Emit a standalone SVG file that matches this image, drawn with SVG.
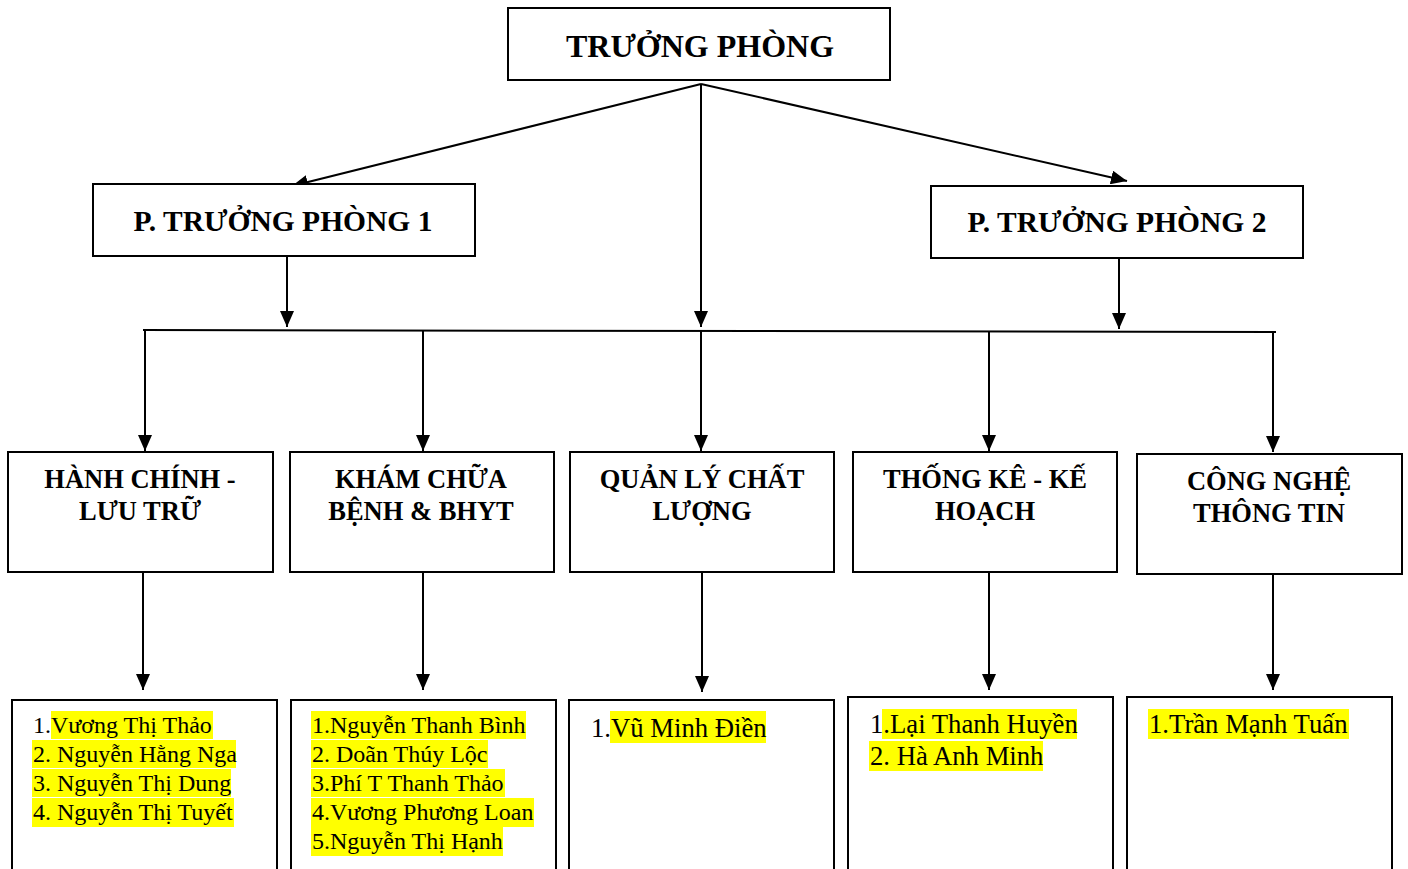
<svg xmlns="http://www.w3.org/2000/svg" width="1408" height="869" viewBox="0 0 1408 869">
<style>
.box{fill:#fff;stroke:#000;stroke-width:2}
.h{font-family:"Liberation Serif","Times New Roman",serif;font-weight:bold;text-anchor:middle;fill:#000}
.n{font-family:"Liberation Serif","Times New Roman",serif;fill:#000}
.hl{fill:#ffff00}
.c{stroke:#000;stroke-width:2;fill:none}
.ca{stroke:#000;stroke-width:2;fill:none;marker-end:url(#ah)}
</style>
<defs>
<marker id="ah" markerUnits="userSpaceOnUse" markerWidth="16" markerHeight="14" refX="16" refY="7" orient="auto">
<path d="M0,0 L16,7 L0,14 z" fill="#000"/>
</marker>
</defs>
<rect width="1408" height="869" fill="#fff"/>
<g id="connectors">
<line class="ca" x1="701" y1="84" x2="292" y2="186"/>
<line class="ca" x1="701" y1="84" x2="701" y2="327"/>
<line class="ca" x1="701" y1="84" x2="1127" y2="181"/>
<line class="ca" x1="287" y1="256" x2="287" y2="327"/>
<line class="ca" x1="1119" y1="258" x2="1119" y2="329"/>
<line class="c" x1="143" y1="330" x2="1276" y2="332"/>
<line class="ca" x1="145" y1="330" x2="145" y2="451"/>
<line class="ca" x1="423" y1="331" x2="423" y2="451"/>
<line class="ca" x1="701" y1="331" x2="701" y2="451"/>
<line class="ca" x1="989" y1="331" x2="989" y2="451"/>
<line class="ca" x1="1273" y1="332" x2="1273" y2="452"/>
<line class="ca" x1="143" y1="572" x2="143" y2="690"/>
<line class="ca" x1="423" y1="572" x2="423" y2="690"/>
<line class="ca" x1="702" y1="572" x2="702" y2="692"/>
<line class="ca" x1="989" y1="572" x2="989" y2="690"/>
<line class="ca" x1="1273" y1="574" x2="1273" y2="690"/>
</g>
<g id="truong-phong">
<rect class="box" x="508" y="8" width="382" height="72"/>
<text class="h" x="700" y="57" font-size="32">TRƯỞNG PHÒNG</text>
</g>
<g id="pho-truong-phong-1">
<rect class="box" x="93" y="184" width="382" height="72"/>
<text class="h" x="283" y="231" font-size="29.5">P. TRƯỞNG PHÒNG 1</text>
</g>
<g id="pho-truong-phong-2">
<rect class="box" x="931" y="186" width="372" height="72"/>
<text class="h" x="1117" y="232" font-size="29.5">P. TRƯỞNG PHÒNG 2</text>
</g>
<g id="hanh-chinh">
<rect class="box" x="8" y="452" width="265" height="120"/>
<text class="h" x="140" y="488" font-size="26.5">HÀNH CHÍNH -</text>
<text class="h" x="140" y="520" font-size="26.5">LƯU TRỮ</text>
</g>
<g id="kham-chua-benh">
<rect class="box" x="290" y="452" width="264" height="120"/>
<text class="h" x="421" y="488" font-size="26.5">KHÁM CHỮA</text>
<text class="h" x="421" y="520" font-size="26.5">BỆNH &amp; BHYT</text>
</g>
<g id="quan-ly-chat-luong">
<rect class="box" x="570" y="452" width="264" height="120"/>
<text class="h" x="702" y="488" font-size="26.5">QUẢN LÝ CHẤT</text>
<text class="h" x="702" y="520" font-size="26.5">LƯỢNG</text>
</g>
<g id="thong-ke-ke-hoach">
<rect class="box" x="853" y="452" width="264" height="120"/>
<text class="h" x="985" y="488" font-size="26.5">THỐNG KÊ - KẾ</text>
<text class="h" x="985" y="520" font-size="26.5">HOẠCH</text>
</g>
<g id="cong-nghe-thong-tin">
<rect class="box" x="1137" y="454" width="265" height="120"/>
<text class="h" x="1269" y="490" font-size="26.5">CÔNG NGHỆ</text>
<text class="h" x="1269" y="522" font-size="26.5">THÔNG TIN</text>
</g>
<g id="ds-hanh-chinh">
<rect class="box" x="12" y="700" width="265" height="175"/>
<rect class="hl" x="51" y="711" width="162" height="28"/>
<rect class="hl" x="32" y="740" width="204" height="28"/>
<rect class="hl" x="32" y="769" width="199" height="28"/>
<rect class="hl" x="32" y="798" width="202" height="29"/>
<text class="n" x="33" y="733" font-size="24">1.Vương Thị Thảo</text>
<text class="n" x="33" y="762" font-size="24">2. Nguyễn Hằng Nga</text>
<text class="n" x="33" y="791" font-size="24">3. Nguyễn Thị Dung</text>
<text class="n" x="33" y="820" font-size="24">4. Nguyễn Thị Tuyết</text>
</g>
<g id="ds-kham-chua-benh">
<rect class="box" x="291" y="700" width="265" height="175"/>
<rect class="hl" x="311" y="711" width="215" height="28"/>
<rect class="hl" x="311" y="740" width="177" height="28"/>
<rect class="hl" x="311" y="769" width="194" height="28"/>
<rect class="hl" x="311" y="798" width="223" height="29"/>
<rect class="hl" x="311" y="827" width="192" height="29"/>
<text class="n" x="312" y="733" font-size="24">1.Nguyễn Thanh Bình</text>
<text class="n" x="312" y="762" font-size="24">2. Doãn Thúy Lộc</text>
<text class="n" x="312" y="791" font-size="24">3.Phí T Thanh Thảo</text>
<text class="n" x="312" y="820" font-size="24">4.Vương Phương Loan</text>
<text class="n" x="312" y="849" font-size="24">5.Nguyễn Thị Hạnh</text>
</g>
<g id="ds-quan-ly-chat-luong">
<rect class="box" x="569" y="700" width="265" height="175"/>
<rect class="hl" x="610" y="711" width="156" height="32"/>
<text class="n" x="591" y="737" font-size="26.7">1.Vũ Minh Điền</text>
</g>
<g id="ds-thong-ke">
<rect class="box" x="848" y="697" width="265" height="178"/>
<rect class="hl" x="882" y="709" width="195" height="30"/>
<rect class="hl" x="869" y="741" width="174" height="30"/>
<text class="n" x="870" y="733" font-size="26.7">1.Lại Thanh Huyền</text>
<text class="n" x="870" y="765" font-size="26.7">2. Hà Anh Minh</text>
</g>
<g id="ds-cong-nghe">
<rect class="box" x="1127" y="697" width="265" height="178"/>
<rect class="hl" x="1148" y="709" width="201" height="30"/>
<text class="n" x="1149" y="733" font-size="26.7">1.Trần Mạnh Tuấn</text>
</g>
</svg>
